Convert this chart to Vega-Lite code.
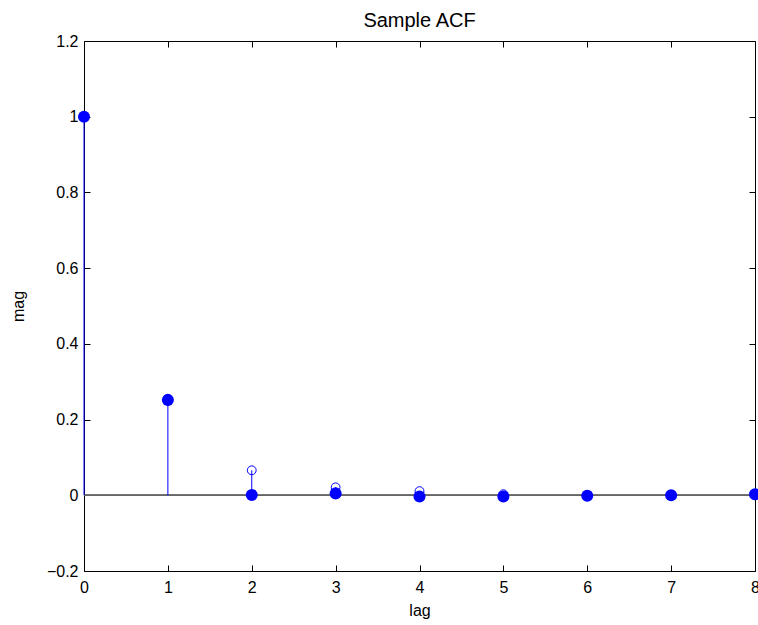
{
  "$schema": "https://vega.github.io/schema/vega-lite/v6.json",
  "width": 671,
  "height": 530,
  "autosize": "none",
  "padding": {"left": 84, "top": 41, "right": 3, "bottom": 54},
  "background": "white",
  "config": {
    "view": {"stroke": null},
    "font": "Liberation Sans",
    "axis": {
      "grid": false,
      "domainColor": "black",
      "domainWidth": 1,
      "tickColor": "black",
      "tickWidth": 1,
      "tickSize": -6,
      "labelFont": "Liberation Sans",
      "labelFontSize": 16,
      "labelColor": "black",
      "titleFont": "Liberation Sans",
      "titleFontSize": 16,
      "titleFontWeight": "normal",
      "titleColor": "black"
    }
  },
  "title": {
    "text": "Sample ACF",
    "fontSize": 20,
    "fontWeight": "normal",
    "font": "Liberation Sans",
    "color": "black",
    "baseline": "alphabetic",
    "offset": 0,
    "dy": 14
  },
  "data": {
    "values": [
      {"lag": 0, "theory": 1.0, "sample": 1.0},
      {"lag": 1, "theory": 0.25, "sample": 0.252},
      {"lag": 2, "theory": 0.066, "sample": 0.001},
      {"lag": 3, "theory": 0.021, "sample": 0.005},
      {"lag": 4, "theory": 0.011, "sample": -0.003},
      {"lag": 5, "theory": 0.003, "sample": -0.003},
      {"lag": 6, "theory": 0.001, "sample": -0.001},
      {"lag": 7, "theory": 0.0005, "sample": 0.0},
      {"lag": 8, "theory": 0.0002, "sample": 0.003}
    ]
  },
  "layer": [
    {
      "mark": {"type": "rule", "color": "#666666", "strokeWidth": 1},
      "encoding": {
        "y": {"datum": 0, "type": "quantitative", "scale": {"domain": [-0.2, 1.2], "nice": false, "zero": false}, "axis": null}
      }
    },
    {
      "mark": {"type": "rule", "color": "#0000ff", "strokeWidth": 1},
      "encoding": {
        "x": {
          "field": "lag", "type": "quantitative",
          "scale": {"domain": [0, 8], "nice": false, "zero": false},
          "axis": {"orient": "bottom", "title": "lag", "values": [0,1,2,3,4,5,6,7,8], "format": "d", "labelPadding": 14, "titlePadding": 7, "labelFlush": false}
        },
        "y": {
          "field": "theory", "type": "quantitative",
          "scale": {"domain": [-0.2, 1.2], "nice": false, "zero": false},
          "axis": {"orient": "left", "title": "mag", "values": [-0.2,0,0.2,0.4,0.6,0.8,1,1.2], "format": "~g", "labelPadding": 12, "titlePadding": 20, "labelFlush": false}
        },
        "y2": {"datum": 0}
      }
    },
    {
      "mark": {"type": "point", "shape": "circle", "filled": false, "color": "#0000ff", "strokeWidth": 1, "size": 78, "opacity": 1},
      "encoding": {
        "x": {"field": "lag", "type": "quantitative", "axis": null},
        "y": {"field": "theory", "type": "quantitative", "axis": null}
      }
    },
    {
      "mark": {"type": "point", "shape": "circle", "filled": true, "color": "#0000ff", "size": 145, "opacity": 1},
      "encoding": {
        "x": {
          "field": "lag", "type": "quantitative",
          "scale": {"domain": [0, 8], "nice": false, "zero": false},
          "axis": {"orient": "top", "title": null, "labels": false, "values": [0,1,2,3,4,5,6,7,8]}
        },
        "y": {
          "field": "sample", "type": "quantitative",
          "scale": {"domain": [-0.2, 1.2], "nice": false, "zero": false},
          "axis": {"orient": "right", "title": null, "labels": false, "values": [-0.2,0,0.2,0.4,0.6,0.8,1,1.2]}
        }
      }
    }
  ],
  "resolve": {"axis": {"x": "independent", "y": "independent"}}
}
